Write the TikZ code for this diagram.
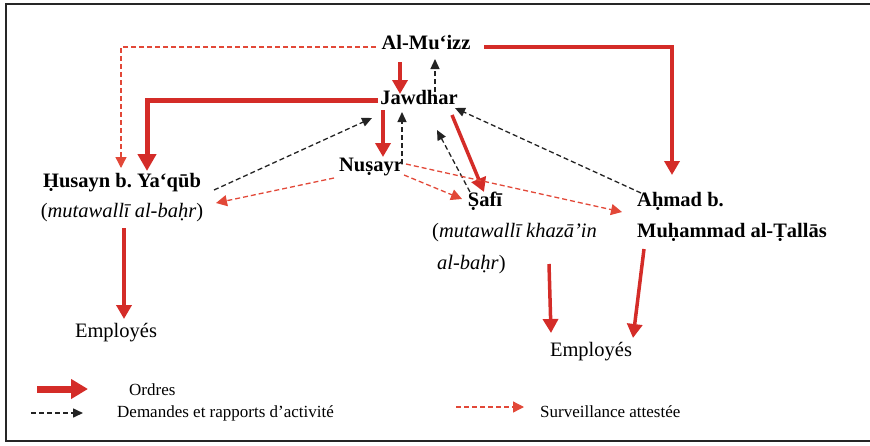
\documentclass[tikz,border=0pt]{standalone}
\usepackage{fontspec}
\setmainfont{Liberation Serif}
\usetikzlibrary{arrows.meta}
\definecolor{ordred}{RGB}{212,44,40}
\definecolor{survred}{RGB}{226,72,56}
\definecolor{reqblack}{RGB}{35,35,35}
\tikzset{
  lbl/.style={inner sep=0pt, font=\fontsize{20.5}{24}\selectfont, text height=14pt, text depth=4.5pt},
  blbl/.style={lbl, font=\fontsize{20.5}{24}\selectfont\bfseries},
  leg/.style={inner sep=0pt, anchor=west, font=\fontsize{17}{20}\selectfont, text height=12pt, text depth=4pt},
  order/.style={draw=ordred, line width=4pt, -{Triangle[length=14pt,width=15pt]}},
  orderthick/.style={order, line width=5pt, -{Triangle[length=17pt,width=18pt]}},
  req/.style={draw=reqblack, line width=1.3pt, dash pattern=on 5pt off 3pt, -{Triangle[length=10pt,width=9pt]}},
  surv/.style={draw=survred, line width=1.3pt, dash pattern=on 5pt off 3pt, -{Triangle[length=11pt,width=11pt]}},
}
\frenchspacing
\begin{document}
\begin{tikzpicture}[x=1pt,y=-1pt]
\useasboundingbox (0,0) rectangle (870,445);
% frame
\draw[line width=2.5pt, draw=black!85] (880,4) -- (6,4) -- (6,441) -- (880,441);

% nodes
\node[blbl] (muizz) at (426,45) {Al-Mu‘izz};
\node[blbl] (jawdhar) at (419,100) {Jawdhar};
\node[blbl] (nusayr) at (371,167) {Nuṣayr};
\node[blbl] (husayn) at (122,183) {Ḥusayn b. Ya‘qūb};
\node[lbl] (husaynsub) at (122,213) {(\textit{mutawallī al-baḥr})};
\node[blbl] (safi) at (485,202) {Ṣafī};
\node[lbl, anchor=west] (safisub1) at (432,233) {(\textit{mutawallī khazā’in}};
\node[lbl, anchor=west] (safisub2) at (437,265) {\textit{al-baḥr})};
\node[blbl, anchor=west] (ahmad1) at (637,202) {Aḥmad b.};
\node[blbl, anchor=west] (ahmad2) at (637,233) {Muḥammad al-Ṭallās};
\node[lbl] (emp1) at (116,333) {Employés};
\node[lbl] (emp2) at (591,352) {Employés};

% connector end points
\coordinate (m-e) at (484,47);
\coordinate (m-w) at (376,47);
\coordinate (a-top) at (672,175);
\coordinate (h-top1) at (121,168);
\coordinate (h-top2) at (147,171);
\coordinate (j-w) at (378,100);
\coordinate (m-s) at (400,62);
\coordinate (j-n) at (400,94);
\coordinate (j-s1) at (383,110);
\coordinate (n-n) at (383,157);
\coordinate (j-se) at (452,115);
\coordinate (s-n) at (484,192);
\coordinate (hs-s) at (124,228);
\coordinate (e1-n) at (124,319);
\coordinate (ss-s) at (549,264);
\coordinate (e2-n1) at (551,333);
\coordinate (ah-s) at (644,249);
\coordinate (e2-n2) at (633,338);
% requests
\coordinate (j-ne) at (435,92);
\coordinate (m-se) at (435,59);
\coordinate (n-ne) at (402,164);
\coordinate (j-s2) at (402,112);
\coordinate (h-e) at (214,190);
\coordinate (j-sw) at (372,118);
\coordinate (s-nw) at (470,192);
\coordinate (j-se2) at (437,130);
\coordinate (ah-nw) at (641,193);
\coordinate (j-e) at (455,108);
% surveillance
\coordinate (n-w) at (334,178);
\coordinate (h-e2) at (216,203);
\coordinate (n-se) at (404,175);
\coordinate (s-w) at (462,199);
\coordinate (n-e) at (406,164);
\coordinate (ah-w) at (622,212);

% orders
\draw[order] (m-e) -| (a-top);
\draw[order] (m-s) -- (j-n);
\draw[orderthick] (j-w) -| (h-top2);
\draw[order] (j-s1) -- (n-n);
\draw[order, line width=3.5pt] (j-se) -- (s-n);
\draw[order, line width=3.5pt] (hs-s) -- (e1-n);
\draw[order, line width=3.5pt] (ss-s) -- (e2-n1);
\draw[order, line width=3.5pt] (ah-s) -- (e2-n2);

% requests
\draw[req] (j-ne) -- (m-se);
\draw[req] (n-ne) -- (j-s2);
\draw[req] (h-e) -- (j-sw);
\draw[req] (s-nw) -- (j-se2);
\draw[req] (ah-nw) -- (j-e);

% surveillance
\draw[surv] (m-w) -| (h-top1);
\draw[surv] (n-w) -- (h-e2);
\draw[surv] (n-se) -- (s-w);
\draw[surv] (n-e) -- (ah-w);

% legend
\node[leg] (lord) at (129,391) {Ordres};
\node[leg] (lreq) at (117,413) {Demandes et rapports d’activité};
\node[leg] (lsurv) at (540,413) {Surveillance attestée};
\coordinate (lo1) at (37,389);
\coordinate (lo2) at (88,389);
\coordinate (lr1) at (31,413);
\coordinate (lr2) at (83,413);
\coordinate (ls1) at (456,407);
\coordinate (ls2) at (524,407);
\draw[order, line width=7pt, -{Triangle[length=17pt,width=19pt]}] (lo1) -- (lo2);
\draw[req, line width=1.6pt] (lr1) -- (lr2);
\draw[surv] (ls1) -- (ls2);
\end{tikzpicture}
\end{document}
